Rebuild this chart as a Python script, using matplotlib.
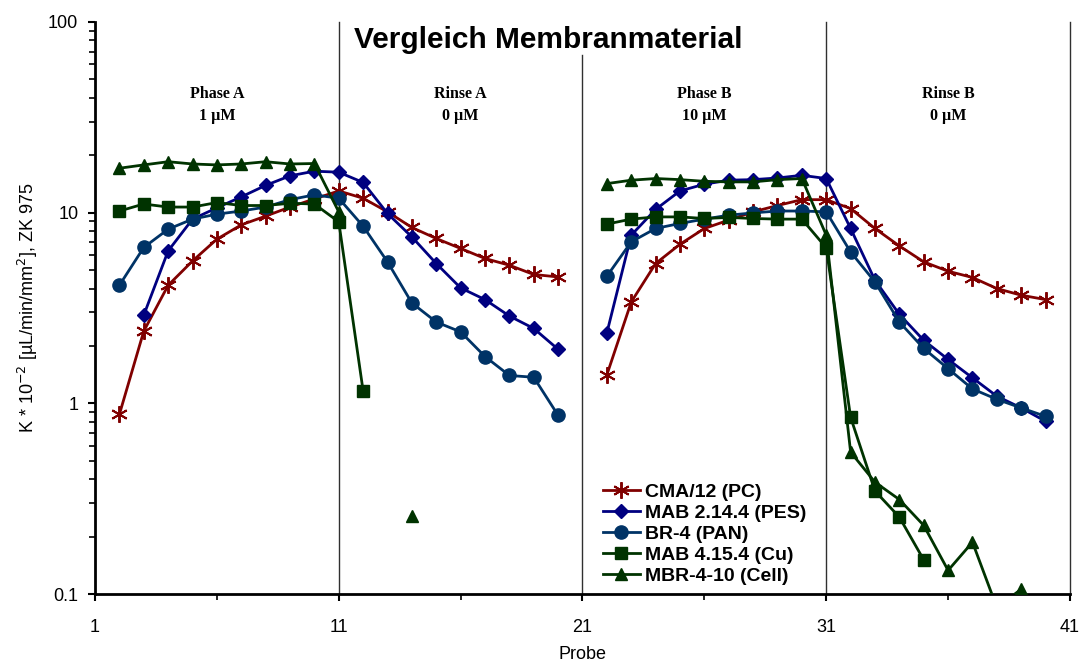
import matplotlib
matplotlib.use("Agg")
import matplotlib.pyplot as plt
import numpy as np
from matplotlib.ticker import FixedLocator, LogLocator, NullFormatter

nan = np.nan

# sample 21 has no measurement, it separates run A from run B
probe = list(range(2, 41))

# K * 10^-2 [uL/min/mm2]
cma_pc = [0.875, 2.39, 4.16, 5.58, 7.26, 8.63, 9.59, 10.7, 11.8, 13.0,
          11.9, 10.1, 8.36, 7.32, 6.49, 5.75, 5.30, 4.74, 4.60, nan,
          1.41, 3.40, 5.41, 6.83, 8.26, 9.14, 10.1, 10.9, 11.7, 11.7,
          10.5, 8.26, 6.69, 5.52, 4.93, 4.57, 4.00, 3.69, 3.50]
mab_pes = [nan, 2.90, 6.3, 9.25, 10.6, 12.1, 13.9, 15.6, 16.5, 16.3,
           14.4, 9.9, 7.46, 5.41, 4.03, 3.50, 2.87, 2.47, 1.92, nan,
           2.34, 7.62, 10.4, 13.0, 14.1, 14.8, 14.9, 15.2, 15.7, 15.1,
           8.26, 4.42, 2.93, 2.14, 1.70, 1.36, 1.09, 0.946, 0.805]
br4_pan = [4.16, 6.57, 8.19, 9.25, 9.82, 10.2, 10.7, 11.7, 12.4, 11.9,
           8.49, 5.52, 3.36, 2.67, 2.37, 1.76, 1.40, 1.37, 0.865, nan,
           4.64, 7.03, 8.26, 8.78, 9.25, 9.70, 9.97, 10.2, 10.2, 10.1,
           6.22, 4.33, 2.67, 1.94, 1.52, 1.19, 1.05, 0.946, 0.855]
mab_cu = [10.2, 11.1, 10.7, 10.7, 11.3, 10.9, 10.9, 11.2, 11.1, 8.95,
          1.16, nan, nan, nan, nan, nan, nan, nan, nan, nan,
          8.71, 9.25, 9.50, 9.50, 9.32, 9.44, 9.32, 9.25, 9.25, 6.54,
          0.845, 0.347, 0.253, 0.151, nan, nan, nan, nan, nan]
mbr_cell = [17.1, 17.8, 18.5, 18.0, 17.8, 18.0, 18.5, 18.0, 18.1, 10.1,
            nan, nan, 0.255, nan, nan, nan, nan, nan, nan, nan,
            14.2, 14.8, 15.1, 14.9, 14.6, 14.5, 14.5, 14.9, 15.1, 7.62,
            0.555, 0.386, 0.313, 0.229, 0.133, 0.187, 0.085, 0.106, 0.071]

series = [
    ("CMA/12 (PC)", cma_pc, "#800000", (6, 2, 0)),
    ("MAB 2.14.4 (PES)", mab_pes, "#000080", "D"),
    ("BR-4 (PAN)", br4_pan, "#003366", "o"),
    ("MAB 4.15.4 (Cu)", mab_cu, "#003300", "s"),
    ("MBR-4-10 (Cell)", mbr_cell, "#003300", "^"),
]
msizes = {"D": 7, "o": 9.5, "s": 8.5, "^": 8.5}

phases = [(6, "Phase A\n1 µM"), (16, "Rinse A\n0 µM"),
          (26, "Phase B\n10 µM"), (36, "Rinse B\n0 µM")]
boundaries = [11, 21, 31, 41]

plt.rcParams["font.family"] = ["Liberation Sans", "DejaVu Sans"]

fig = plt.figure(figsize=(10.81, 6.64), dpi=100)
ax = fig.add_axes([0.0879, 0.1054, 0.9019, 0.8615])

for x in boundaries:
    # the line at 21 stops below the title
    top = 0.942 if x == 21 else 1.0
    ax.axvline(x, ymax=top, color="#303030", lw=1.0, zorder=1, clip_on=False)

for name, vals, col, mk in series:
    if isinstance(mk, tuple):
        ax.plot(probe, vals, color=col, lw=2, marker=mk, markersize=12,
                markeredgewidth=1.4, label=name, zorder=3)
    else:
        ax.plot(probe, vals, color=col, lw=2, marker=mk, markersize=msizes[mk],
                markeredgecolor=col, label=name, zorder=3)

ax.set_yscale("log")
ax.set_ylim(0.1, 100)
ax.set_xlim(1, 41)

ax.xaxis.set_major_locator(FixedLocator([1, 11, 21, 31, 41]))
ax.xaxis.set_minor_locator(FixedLocator([6, 16, 26, 36]))
ax.yaxis.set_major_locator(FixedLocator([0.1, 1, 10, 100]))
ax.yaxis.set_minor_locator(LogLocator(base=10, subs=np.arange(2, 10)))
ax.yaxis.set_minor_formatter(NullFormatter())
ax.set_yticklabels(["0.1", "1", "10", "100"])

ax.tick_params(axis="both", which="major", direction="out", length=5,
               width=1.5, labelsize=13)
ax.tick_params(axis="y", which="major", pad=7)
ax.tick_params(axis="x", which="major", pad=13)
ax.tick_params(axis="both", which="minor", direction="out", length=4,
               width=1.2)

for side in ["top", "right"]:
    ax.spines[side].set_visible(False)
for side in ["left", "bottom"]:
    ax.spines[side].set_linewidth(2)

ax.set_xlabel("Probe", fontsize=13, labelpad=7)
ax.set_ylabel("K * 10$^{-2}$ [µL/min/mm$^{2}$], ZK 975", fontsize=13,
              labelpad=6)

ax.text(0.4646, 0.993, "Vergleich Membranmaterial", transform=ax.transAxes,
        ha="center", va="top", fontsize=21.5, fontweight="bold", zorder=5)

for xc, label in phases:
    ax.text(xc, 0.855, label, transform=ax.get_xaxis_transform(),
            ha="center", va="center", fontsize=11.5, fontweight="bold",
            family=["Liberation Serif", "DejaVu Serif"], linespacing=1.45)

ax.legend(loc="upper left", bbox_to_anchor=(0.513, 0.207), frameon=False,
          prop=dict(size=14, weight="bold"), handlelength=1.9,
          handletextpad=0.25, labelspacing=0.17, borderaxespad=0)

plt.savefig("out.png", dpi=100)
